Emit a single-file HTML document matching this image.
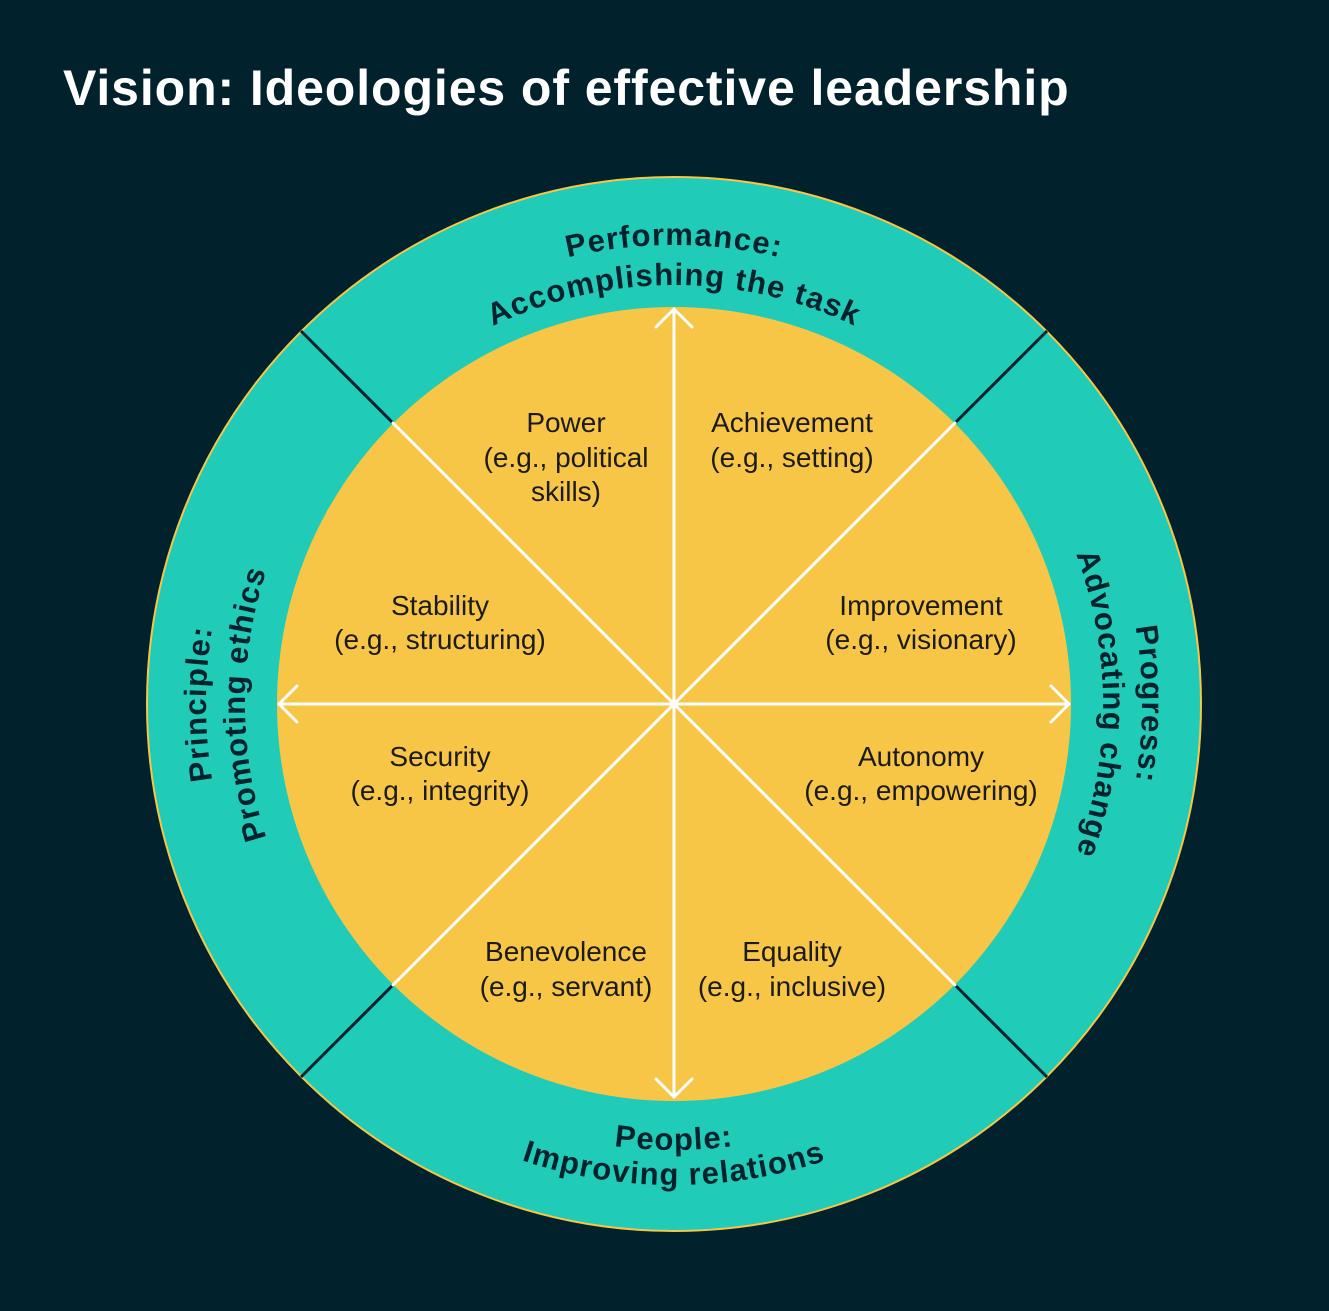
<!DOCTYPE html>
<html><head><meta charset="utf-8"><style>
html,body{margin:0;padding:0;background:#01222d;}
svg{display:block;}
</style></head><body>
<svg width="1329" height="1311" viewBox="0 0 1329 1311" xmlns="http://www.w3.org/2000/svg">
<rect width="1329" height="1311" fill="#01222d"/>
<text x="63" y="105" font-family="Liberation Sans, sans-serif" font-weight="bold" font-size="50" letter-spacing="0.9" fill="#ffffff">Vision: Ideologies of effective leadership</text>
<circle cx="674" cy="704" r="527" fill="#20cbb8" stroke="#f8c646" stroke-width="2"/>
<circle cx="674" cy="704" r="397" fill="#f8c646"/>
<g stroke="#01222d" stroke-width="3">
<line x1="393" y1="423" x2="301" y2="331"/>
<line x1="955" y1="423" x2="1047" y2="331"/>
<line x1="393" y1="985" x2="301" y2="1077"/>
<line x1="955" y1="985" x2="1047" y2="1077"/>
</g>
<g stroke="#ffffff" stroke-width="3" fill="none" stroke-linecap="round" stroke-linejoin="round">
<line x1="393" y1="423" x2="955" y2="985"/>
<line x1="955" y1="423" x2="393" y2="985"/>
<line x1="674" y1="309" x2="674" y2="1097"/>
<line x1="279" y1="704" x2="1069" y2="704"/>
<polyline points="656,327 674,309 692,327"/>
<polyline points="656,1079 674,1097 692,1079"/>
<polyline points="297,686 279,704 297,722"/>
<polyline points="1051,686 1069,704 1051,722"/>
</g>
<defs>
<path id="t1" d="M215,704 A459,459 0 0 1 1133,704"/>
<path id="t2" d="M255,704 A419,419 0 0 1 1093,704"/>
<path id="b1" d="M228,704 A446,446 0 0 0 1120,704"/>
<path id="b2" d="M193,704 A481,481 0 0 0 1155,704"/>
<path id="r1" d="M674,236 A468,468 0 0 1 674,1172"/>
<path id="r2" d="M674,275 A429,429 0 0 1 674,1133"/>
<path id="l1" d="M674,1172 A468,468 0 0 1 674,236"/>
<path id="l2" d="M674,1133 A429,429 0 0 1 674,275"/>
</defs>
<g font-family="Liberation Sans, sans-serif" font-weight="bold" font-size="31" letter-spacing="1.2" fill="#01222d" text-anchor="middle">
<text><textPath href="#t1" startOffset="50%">Performance:</textPath></text>
<text><textPath href="#t2" startOffset="50%">Accomplishing the task</textPath></text>
<text><textPath href="#b1" startOffset="50%">People:</textPath></text>
<text><textPath href="#b2" startOffset="50%">Improving relations</textPath></text>
<text><textPath href="#r1" startOffset="50%">Progress:</textPath></text>
<text><textPath href="#r2" startOffset="50%">Advocating change</textPath></text>
<text><textPath href="#l1" startOffset="50%">Principle:</textPath></text>
<text><textPath href="#l2" startOffset="50%">Promoting ethics</textPath></text>
</g>
<g font-family="Liberation Sans, sans-serif" font-size="28" fill="#1b1b1b" text-anchor="middle">
<text x="566" y="432">Power</text><text x="566" y="467">(e.g., political</text><text x="566" y="501">skills)</text>
<text x="792" y="432">Achievement</text><text x="792" y="467">(e.g., setting)</text>
<text x="440" y="615">Stability</text><text x="440" y="649">(e.g., structuring)</text>
<text x="921" y="615">Improvement</text><text x="921" y="649">(e.g., visionary)</text>
<text x="440" y="766">Security</text><text x="440" y="800">(e.g., integrity)</text>
<text x="921" y="766">Autonomy</text><text x="921" y="800">(e.g., empowering)</text>
<text x="566" y="961">Benevolence</text><text x="566" y="996">(e.g., servant)</text>
<text x="792" y="961">Equality</text><text x="792" y="996">(e.g., inclusive)</text>
</g>
</svg>
</body></html>
